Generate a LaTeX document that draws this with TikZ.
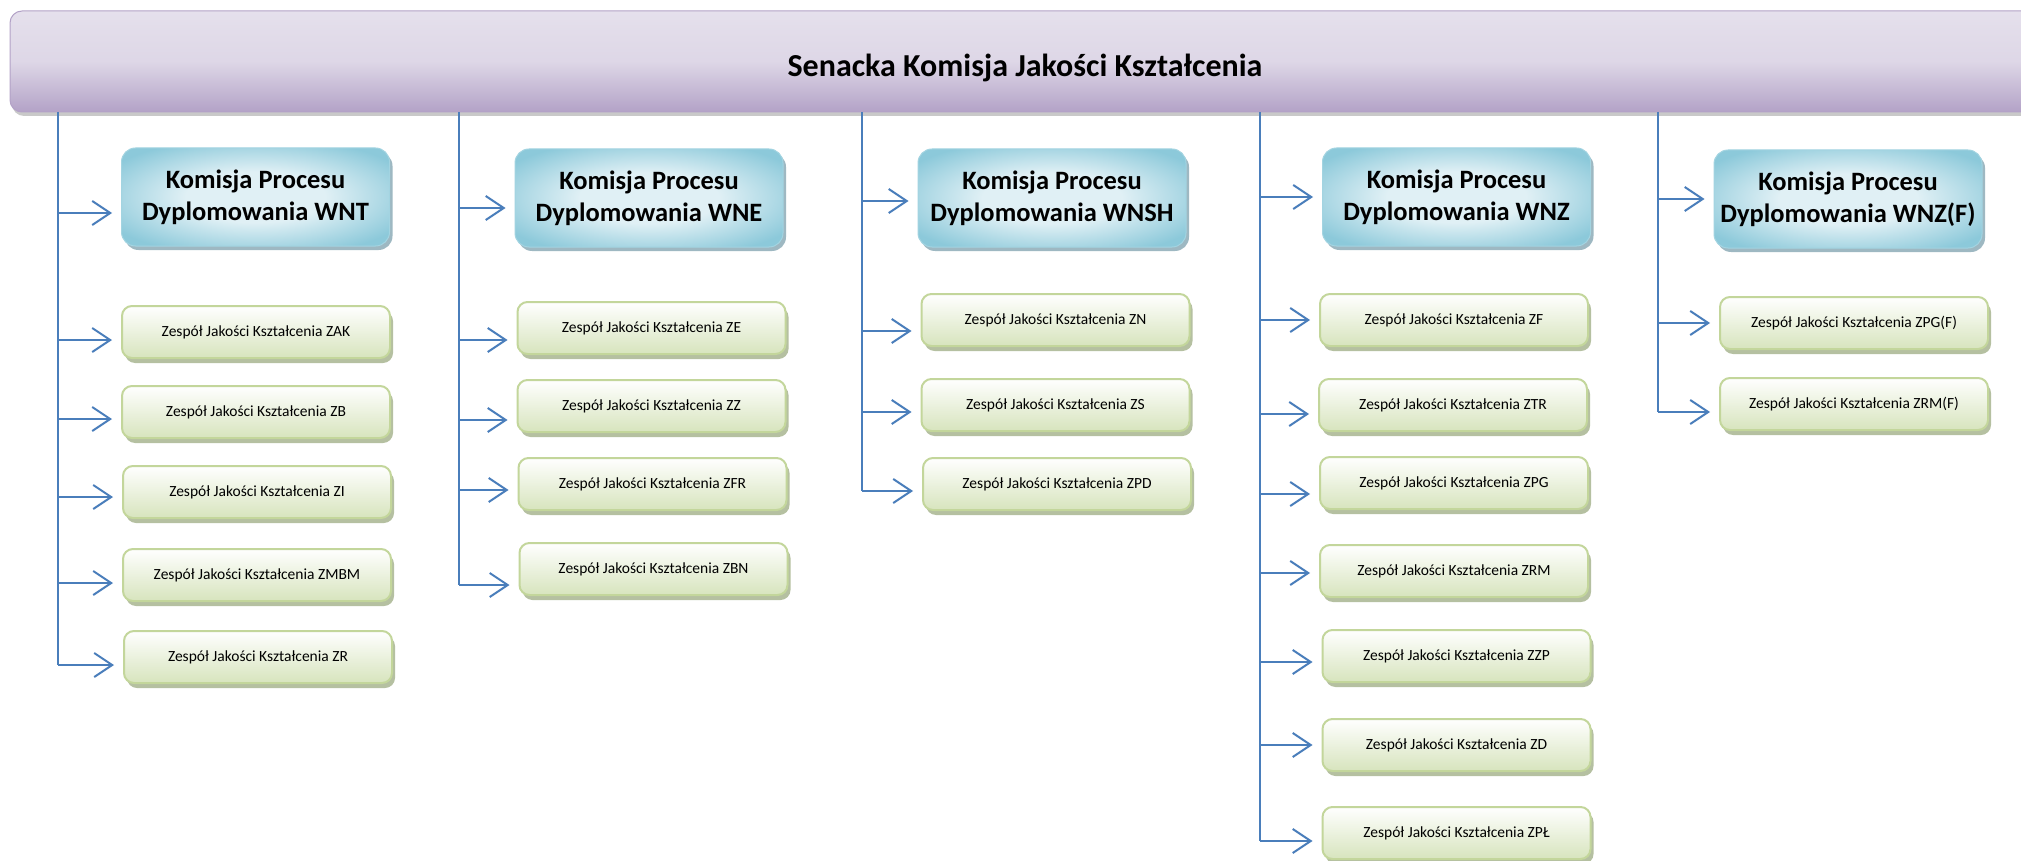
\documentclass[tikz,border=0pt]{standalone}
\usepackage{fontspec}
\setmainfont{Carlito}
\usetikzlibrary{arrows.meta,shadows}

\definecolor{niebieski}{HTML}{4A7EBB}
\definecolor{fioletG}{HTML}{E5E0EC}
\definecolor{fioletD}{HTML}{B3A2C7}
\definecolor{turkusJ}{HTML}{E0F0F5}
\definecolor{turkusC}{HTML}{8CC9DA}
\definecolor{zielonyR}{HTML}{C3D69B}
\definecolor{zielonyD}{HTML}{D7E4BD}
\definecolor{cienZ}{HTML}{A3B18A}
\definecolor{cienN}{HTML}{86A7B3}

\pgfdeclareradialshading{turkus}{\pgfpoint{0bp}{0bp}}{color(0bp)=(turkusJ); color(13bp)=(turkusJ);
	color(31bp)=(turkusC); color(50bp)=(turkusC)}

\tikzset{
	senat/.style={draw=fioletD, line width=1pt, rounded corners=12pt,
		top color=fioletG, bottom color=fioletD, middle color=fioletG!85!fioletD,
		drop shadow={shadow xshift=2pt, shadow yshift=-4pt, fill=gray!70, opacity=0.6},
		font=\fontsize{32}{36}\selectfont\bfseries},
	komisja/.style={draw=turkusC!80, line width=1pt, rounded corners=14pt,
		shading=turkus,
		drop shadow={shadow xshift=3pt, shadow yshift=-4pt, fill=cienN, opacity=0.8},
		minimum width=268pt, minimum height=98pt, align=center,
		font=\fontsize{26.5}{32}\selectfont\bfseries},
	zespol/.style={draw=zielonyR, line width=2pt, rounded corners=10pt,
		top color=white, bottom color=zielonyD,
		drop shadow={shadow xshift=3pt, shadow yshift=-5pt, fill=cienZ, opacity=0.8},
		minimum width=268pt, minimum height=52pt,
		font=\fontsize{15.5}{18}\selectfont},
	linia/.style={niebieski, line width=2pt},
	strz/.style={niebieski, line width=2pt, -{Straight Barb[length=18pt,width=24pt]}, shorten >=9pt}
}

\begin{document}
\begin{tikzpicture}[x=1pt,y=-1pt]
	\useasboundingbox (0,0) rectangle (2021,861);
	\fill[white] (0,0) rectangle (2021,861);
	\clip (0,0) rectangle (2021,861);
	% senacka komisja - pasek u gory
	\node[senat, minimum width=2030pt, minimum height=101pt, text height=36pt] (skjk) at (1025,61.5) {Senacka Komisja Jakości Kształcenia};
	% komisje procesu dyplomowania
	\node[komisja] (wnt) at (255.5,197) {Komisja Procesu\\Dyplomowania WNT};
	\node[komisja] (wne) at (649,198) {Komisja Procesu\\Dyplomowania WNE};
	\node[komisja] (wnsh) at (1052,198) {Komisja Procesu\\Dyplomowania WNSH};
	\node[komisja] (wnz) at (1456.5,197) {Komisja Procesu\\Dyplomowania WNZ};
	\node[komisja] (wnzf) at (1848,199) {Komisja Procesu\\Dyplomowania WNZ(F)};
	% zespoly - WNT
	\node[zespol] (zak) at (256,332) {Zespół Jakości Kształcenia ZAK};
	\node[zespol] (zb) at (256,412) {Zespół Jakości Kształcenia ZB};
	\node[zespol] (zi) at (257,492) {Zespół Jakości Kształcenia ZI};
	\node[zespol] (zmbm) at (257,575) {Zespół Jakości Kształcenia ZMBM};
	\node[zespol] (zr) at (258,657) {Zespół Jakości Kształcenia ZR};
	% zespoly - WNE
	\node[zespol] (ze) at (651.5,328) {Zespół Jakości Kształcenia ZE};
	\node[zespol] (zz) at (651.5,406) {Zespół Jakości Kształcenia ZZ};
	\node[zespol] (zfr) at (652.5,484) {Zespół Jakości Kształcenia ZFR};
	\node[zespol] (zbn) at (653.5,569) {Zespół Jakości Kształcenia ZBN};
	% zespoly - WNSH
	\node[zespol] (zn) at (1055.5,320) {Zespół Jakości Kształcenia ZN};
	\node[zespol] (zs) at (1055.5,405) {Zespół Jakości Kształcenia ZS};
	\node[zespol] (zpd) at (1057,484) {Zespół Jakości Kształcenia ZPD};
	% zespoly - WNZ
	\node[zespol] (zf) at (1454,320) {Zespół Jakości Kształcenia ZF};
	\node[zespol] (ztr) at (1453,405) {Zespół Jakości Kształcenia ZTR};
	\node[zespol] (zpg) at (1454,483) {Zespół Jakości Kształcenia ZPG};
	\node[zespol] (zrm) at (1454,571) {Zespół Jakości Kształcenia ZRM};
	\node[zespol] (zzp) at (1456.5,656) {Zespół Jakości Kształcenia ZZP};
	\node[zespol] (zd) at (1456.5,745) {Zespół Jakości Kształcenia ZD};
	\node[zespol] (zpl) at (1456.5,833) {Zespół Jakości Kształcenia ZPŁ};
	% zespoly - WNZ(F)
	\node[zespol] (zpgf) at (1854,323) {Zespół Jakości Kształcenia ZPG(F)};
	\node[zespol] (zrmf) at (1854,404) {Zespół Jakości Kształcenia ZRM(F)};
	% linie pionowe od paska
	\coordinate (p1) at (skjk.south -| 58,0);
	\coordinate (p2) at (skjk.south -| 459,0);
	\coordinate (p3) at (skjk.south -| 862,0);
	\coordinate (p4) at (skjk.south -| 1260,0);
	\coordinate (p5) at (skjk.south -| 1658,0);
	\draw[linia] (p1) -- ([yshift=-8pt]zr.west -| p1);
	\draw[linia] (p2) -- ([yshift=-16pt]zbn.west -| p2);
	\draw[linia] (p3) -- ([yshift=-7pt]zpd.west -| p3);
	\draw[linia] (p4) -- ([yshift=-8pt]zpl.west -| p4);
	\draw[linia] (p5) -- ([yshift=-8pt]zrmf.west -| p5);
	% strzalki WNT
	\draw[strz] ([yshift=-16pt]wnt.west -| p1) -- ([yshift=-16pt]wnt.west);
	\draw[strz] ([yshift=-8pt]zak.west -| p1) -- ([yshift=-8pt]zak.west);
	\draw[strz] ([yshift=-7pt]zb.west -| p1) -- ([yshift=-7pt]zb.west);
	\draw[strz] ([yshift=-5pt]zi.west -| p1) -- ([yshift=-5pt]zi.west);
	\draw[strz] ([yshift=-8pt]zmbm.west -| p1) -- ([yshift=-8pt]zmbm.west);
	\draw[strz] ([yshift=-8pt]zr.west -| p1) -- ([yshift=-8pt]zr.west);
	% strzalki WNE
	\draw[strz] ([yshift=-10pt]wne.west -| p2) -- ([yshift=-10pt]wne.west);
	\draw[strz] ([yshift=-12pt]ze.west -| p2) -- ([yshift=-12pt]ze.west);
	\draw[strz] ([yshift=-14pt]zz.west -| p2) -- ([yshift=-14pt]zz.west);
	\draw[strz] ([yshift=-6pt]zfr.west -| p2) -- ([yshift=-6pt]zfr.west);
	\draw[strz] ([yshift=-16pt]zbn.west -| p2) -- ([yshift=-16pt]zbn.west);
	% strzalki WNSH
	\draw[strz] ([yshift=-3pt]wnsh.west -| p3) -- ([yshift=-3pt]wnsh.west);
	\draw[strz] ([yshift=-11pt]zn.west -| p3) -- ([yshift=-11pt]zn.west);
	\draw[strz] ([yshift=-7pt]zs.west -| p3) -- ([yshift=-7pt]zs.west);
	\draw[strz] ([yshift=-7pt]zpd.west -| p3) -- ([yshift=-7pt]zpd.west);
	% strzalki WNZ
	\draw[strz] (wnz.west -| p4) -- (wnz.west);
	\draw[strz] (zf.west -| p4) -- (zf.west);
	\draw[strz] ([yshift=-9pt]ztr.west -| p4) -- ([yshift=-9pt]ztr.west);
	\draw[strz] ([yshift=-11pt]zpg.west -| p4) -- ([yshift=-11pt]zpg.west);
	\draw[strz] ([yshift=-2pt]zrm.west -| p4) -- ([yshift=-2pt]zrm.west);
	\draw[strz] ([yshift=-6pt]zzp.west -| p4) -- ([yshift=-6pt]zzp.west);
	\draw[strz] (zd.west -| p4) -- (zd.west);
	\draw[strz] ([yshift=-8pt]zpl.west -| p4) -- ([yshift=-8pt]zpl.west);
	% strzalki WNZ(F)
	\draw[strz] (wnzf.west -| p5) -- (wnzf.west);
	\draw[strz] (zpgf.west -| p5) -- (zpgf.west);
	\draw[strz] ([yshift=-8pt]zrmf.west -| p5) -- ([yshift=-8pt]zrmf.west);
\end{tikzpicture}
\end{document}
